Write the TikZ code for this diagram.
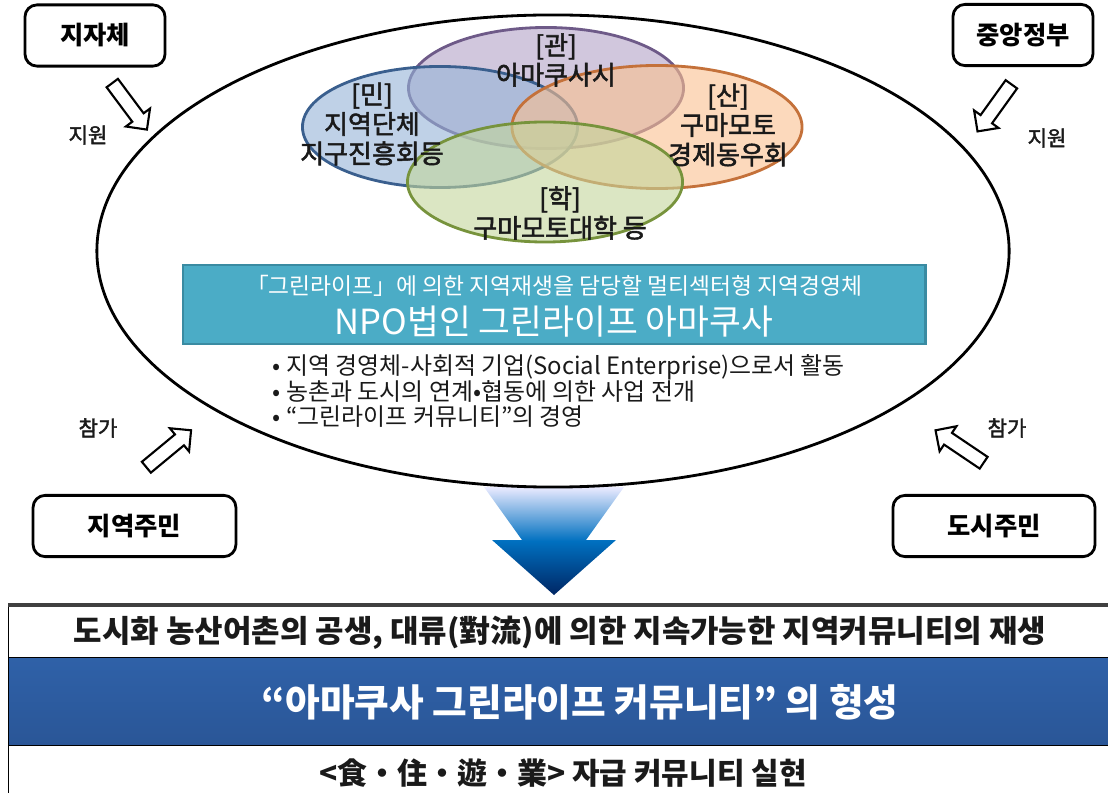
\documentclass[tikz,border=0pt]{standalone}
\usepackage{fontspec}
\setmainfont{Noto Sans CJK KR}
\newfontfamily\vennfont{Noto Sans CJK KR}[FakeBold=2]
\usetikzlibrary{shapes.geometric, shapes.arrows}

\definecolor{gwanfill}{HTML}{B3A2C7}
\definecolor{gwanline}{HTML}{6E5A88}
\definecolor{minfill}{HTML}{95B3D7}
\definecolor{minline}{HTML}{3A5F8E}
\definecolor{sanfill}{HTML}{FAC090}
\definecolor{sanline}{HTML}{C4713A}
\definecolor{hakfill}{HTML}{C3D69B}
\definecolor{hakline}{HTML}{77933C}
\definecolor{npofill}{HTML}{4BACC6}
\definecolor{npoline}{HTML}{3A8BA2}
\definecolor{bandblue}{HTML}{2F61A8}
\definecolor{bandblue2}{HTML}{2A5697}
\definecolor{txt}{HTML}{1A1A1A}

\begin{document}
\begin{tikzpicture}[
    x=0.025cm, y=-0.025cm,
    party/.style={draw, rounded corners=0.3cm, line width=2pt, fill=white,
                  minimum height=1.53cm, font=\fontsize{18pt}{20pt}\selectfont\bfseries},
    venn/.style={ellipse, line width=2pt, fill opacity=0.6,
                 minimum width=6.875cm, minimum height=3.025cm},
    venntext/.style={align=center, text=txt, font=\fontsize{18.5pt}{21pt}\vennfont},
    support/.style={single arrow, draw, line width=1.5pt, fill=white, inner sep=0.15cm,
                    single arrow head extend=0.2cm, minimum height=1.45cm},
    sidelabel/.style={text=txt, font=\fontsize{15pt}{17pt}\vennfont},
    band/.style={draw=black, line width=0.6pt, minimum width=27.6cm,
                 anchor=north west, inner sep=0pt}
  ]
  \useasboundingbox (0,0) rectangle (1108,793);

  % bottom bands
  \node[band, minimum height=1.3cm] (regen) at (8,605) {};
  \node[band, minimum height=2.2cm, top color=bandblue, bottom color=bandblue2]
    (forming) at (8,657) {};
  \node[band, minimum height=1.5cm] (selfsup) at (8,745) {};
  \draw[line width=3pt, black!75] (regen.north west) -- (regen.north east);
  \node[font=\fontsize{22pt}{24pt}\selectfont\bfseries, text=txt] (regentext) at (560,633)
    {도시화 농산어촌의 공생, 대류(對流)에 의한 지속가능한 지역커뮤니티의 재생};
  \node[font=\fontsize{26.8pt}{30pt}\selectfont\bfseries, text=white] (formtext) at (580,702)
    {“아마쿠사 그린라이프 커뮤니티” 의 형성};
  \node[font=\fontsize{21.3pt}{24pt}\selectfont\bfseries, text=txt] (selftext) at (563,773)
    {<食・住・遊・業> 자급 커뮤니티 실현};

  % big arrow down
  \shade[top color=blue!8, bottom color={rgb,255:red,0;green,38;blue,100},
         middle color={rgb,255:red,0;green,112;blue,192}]
    (484,487) -- (624,487) -- (586,540) -- (616,540) -- (554,595)
    -- (492,540) -- (522,540) -- cycle;

  % region
  \node[draw, ellipse, line width=2pt, minimum width=22.8cm, minimum height=11.8cm]
    (region) at (553,251) {};

  % four actors
  \node[venn, draw=gwanline, fill=gwanfill] (gwan) at (546,88) {};
  \node[venn, draw=minline, fill=minfill] (min) at (440,127) {};
  \node[venn, draw=sanline, fill=sanfill, minimum width=7.25cm,
        minimum height=3.075cm] (san) at (657,127) {};
  \node[venn, draw=hakline, fill=hakfill, minimum height=3cm] (hak) at (545,182) {};
  \node[venntext] (gwantext) at (556,60) {[관]\\아마쿠사시};
  \node[venntext] (mintext) at (372,124) {[민]\\지역단체\\지구진흥회등};
  \node[venntext] (santext) at (728,125) {[산]\\구마모토\\경제동우회};
  \node[venntext] (haktext) at (560,213) {[학]\\구마모토대학 등};

  % NPO
  \node[draw=npoline, fill=npofill, line width=2pt, minimum width=18.55cm,
        minimum height=1.975cm] (npo) at (554,304.5) {};
  \node[text=white, font=\fontsize{16.2pt}{18pt}\selectfont] (npohead) at (554,286)
    {「그린라이프」에 의한 지역재생을 담당할 멀티섹터형 지역경영체};
  \node[text=white, font=\fontsize{24.6pt}{28pt}\selectfont] (nponame) at (554,322)
    {NPO법인 그린라이프 아마쿠사};
  \node[anchor=west, align=left, text=txt, font=\fontsize{17pt}{17.7pt}\selectfont]
    (tasks) at (268,391)
    {• 지역 경영체-사회적 기업(Social Enterprise)으로서 활동\\
     • 농촌과 도시의 연계•협동에 의한 사업 전개\\
     • “그린라이프 커뮤니티”의 경영};

  % outside parties
  \node[party, minimum width=3.5cm] (local) at (95,35.5) {지자체};
  \node[party, minimum width=3.5cm] (central) at (1023,35) {중앙정부};
  \node[party, minimum width=5.07cm] (locals) at (134.5,526) {지역주민};
  \node[party, minimum width=5.05cm] (citizens) at (994,526) {도시주민};

  \node[support, rotate=-53.3] (localarrow) at (127.5,103.5) {};
  \node[support, rotate=-125.7] (centralarrow) at (996.5,105) {};
  \node[support, rotate=39.6] (localsarrow) at (166,451) {};
  \node[support, rotate=146] (citizensarrow) at (962.5,448.5) {};
  \node[sidelabel] (localsupport) at (88,135) {지원};
  \node[sidelabel] (centralsupport) at (1047,138) {지원};
  \node[sidelabel] (localsjoin) at (98,428) {참가};
  \node[sidelabel] (citizensjoin) at (1007,428) {참가};
\end{tikzpicture}
\end{document}
